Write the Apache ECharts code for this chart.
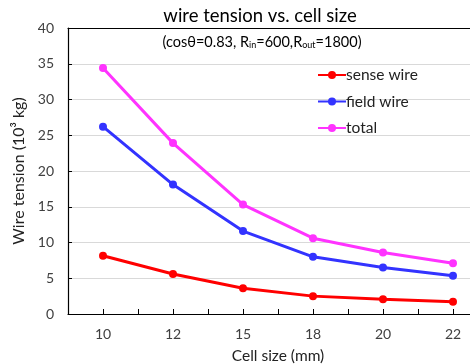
<!DOCTYPE html>
<html>
<head>
<meta charset="utf-8">
<script src="https://cdn.jsdelivr.net/npm/echarts@6/dist/echarts.min.js"></script>
<style>
  html, body { margin: 0; padding: 0; background: #fff; }
  #chart { width: 470px; height: 364px; }
</style>
</head>
<body>
<div id="chart"></div>
<script>
// cell size categories (mm)
const cellSizes = ['10', '12', '15', '18', '20', '22'];
// wire tension, 10^3 kg
const senseWire = [8.15, 5.6, 3.6, 2.5, 2.05, 1.7];
const fieldWire = [26.2, 18.1, 11.6, 8.0, 6.5, 5.35];
const totalWire = [34.4, 23.9, 15.3, 10.6, 8.6, 7.1];
const yTicks = [0, 5, 10, 15, 20, 25, 30, 35, 40];

const font = 'Lato';
const myChart = echarts.init(document.getElementById('chart'));

// categories are placed on a value axis by index so ticks can sit at both centres and boundaries
const toPoints = arr => arr.map((v, i) => [i, v]);

const options = {
  animation: false,
  textStyle: { fontFamily: font },
  title: [
    {
      text: 'wire tension vs. cell size',
      left: 255, top: 2, textAlign: 'center',
      textStyle: { fontSize: 18.5, fontWeight: 'normal', color: '#000', fontFamily: font }
    },
    {
      text: '(cosθ=0.83, R{s|in}=600,R{s|out}=1800)',
      left: 257, top: 29, textAlign: 'center',
      textStyle: {
        fontSize: 14.5, fontWeight: 'normal', color: '#000', fontFamily: font,
        rich: { s: { fontSize: 9, verticalAlign: 'bottom', padding: [7, 0, 0, 0], color: '#000', fontFamily: font } }
      }
    }
  ],
  legend: {
    orient: 'vertical',
    left: 312, top: 62,
    itemWidth: 28, itemHeight: 10, itemGap: 10.5,
    textStyle: { fontSize: 15.5, color: '#222', fontFamily: font, padding: [0, 0, 0, -5] },
    data: ['sense wire', 'field wire', 'total']
  },
  grid: { left: 68, right: -18, top: 28, bottom: 50, outerBoundsMode: 'none', containLabel: false },
  xAxis: [
    {
      type: 'value',
      min: -0.5, max: 5.5, interval: 0.5,
      name: 'Cell size (mm)',
      nameLocation: 'middle', nameGap: 34,
      nameTextStyle: { fontSize: 15.5, color: '#222', fontFamily: font },
      axisLine: { show: true, lineStyle: { color: '#000', width: 1.2 } },
      axisTick: { show: true, inside: true, length: 5, lineStyle: { color: '#000' } },
      splitLine: { show: false },
      axisLabel: {
        margin: 13, fontSize: 14, color: '#404040', fontFamily: font,
        formatter: v => (Number.isInteger(v) && cellSizes[v] !== undefined) ? cellSizes[v] : ''
      }
    },
    {
      type: 'value', position: 'top',
      min: -0.5, max: 5.5,
      axisLine: { show: true, lineStyle: { color: '#000', width: 1.2 } },
      axisTick: { show: false }, axisLabel: { show: false }, splitLine: { show: false }
    }
  ],
  yAxis: {
    type: 'value',
    min: yTicks[0], max: yTicks[yTicks.length - 1], interval: 5,
    name: 'Wire tension (10³ kg)',
    nameLocation: 'middle', nameGap: 36,
    nameTextStyle: { fontSize: 16, color: '#222', fontFamily: font },
    axisLine: { show: true, onZero: false, lineStyle: { color: '#000', width: 1.2 } },
    axisTick: { show: true, inside: true, length: 4, lineStyle: { color: '#000' } },
    axisLabel: { margin: 14, fontSize: 14, color: '#404040', fontFamily: font },
    splitLine: { lineStyle: { color: '#d9d9d9', width: 1 } }
  },
  series: [
    {
      name: 'sense wire', type: 'line', data: toPoints(senseWire),
      symbol: 'circle', symbolSize: 8,
      lineStyle: { width: 3, color: '#ff0000' }, itemStyle: { color: '#ff0000' }
    },
    {
      name: 'field wire', type: 'line', data: toPoints(fieldWire),
      symbol: 'circle', symbolSize: 8,
      lineStyle: { width: 3, color: '#3333ff' }, itemStyle: { color: '#3333ff' }
    },
    {
      name: 'total', type: 'line', data: toPoints(totalWire),
      symbol: 'circle', symbolSize: 8,
      lineStyle: { width: 3, color: '#ff33ff' }, itemStyle: { color: '#ff33ff' }
    }
  ]
};

myChart.setOption(options);
</script>
</body>
</html>
